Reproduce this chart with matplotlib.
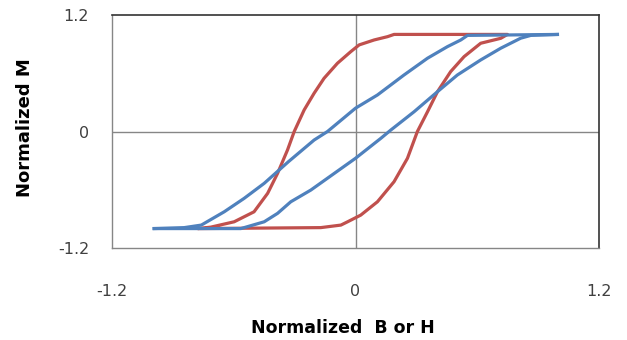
import matplotlib
matplotlib.use("Agg")
import matplotlib.pyplot as plt

# Red loop (narrow, square-ish): left (descending) branch, top, right (ascending) branch, bottom
red_x = [-0.778, -0.713, -0.598, -0.50, -0.433, -0.384, -0.335, -0.302, -0.253, -0.204, -0.155,
         -0.089, -0.023, 0.018, 0.092, 0.158, 0.19,
         0.749, 0.716, 0.617, 0.535, 0.469, 0.404, 0.355, 0.305, 0.256, 0.19, 0.108, 0.026, -0.039,
         -0.072, -0.171, -0.778]
red_m = [-1.0, -0.985, -0.93, -0.827, -0.637, -0.431, -0.19, 0.0, 0.222, 0.394, 0.548,
         0.703, 0.823, 0.892, 0.943, 0.977, 1.0,
         1.0, 0.96, 0.909, 0.771, 0.617, 0.41, 0.204, 0.0, -0.276, -0.517, -0.724, -0.861, -0.93,
         -0.964, -0.99, -1.0]

# Blue loop (slanted): ascending branch
blue_up_x = [-1.0, -0.565, -0.45, -0.384, -0.319, -0.22, 0.0, 0.125, 0.174, 0.289, 0.404,
             0.502, 0.617, 0.716, 0.814, 0.864, 1.003]
blue_up_m = [-1.0, -1.0, -0.93, -0.843, -0.724, -0.603, -0.276, -0.07, 0.015, 0.204, 0.41,
             0.582, 0.737, 0.858, 0.961, 0.99, 1.0]
# Blue loop: descending branch
blue_dn_x = [1.003, 0.552, 0.519, 0.453, 0.355, 0.239, 0.108, 0.0, -0.138, -0.204, -0.33,
             -0.45, -0.549, -0.647, -0.76, -0.844, -1.0]
blue_dn_m = [1.0, 0.99, 0.943, 0.874, 0.755, 0.582, 0.376, 0.24, 0.0, -0.088, -0.31,
             -0.534, -0.689, -0.827, -0.964, -0.99, -1.0]

ticks = [-1.2, 0, 1.2]
tick_labels = ["-1.2", "0", "1.2"]

fig = plt.figure(figsize=(6.27, 3.4), dpi=100)
ax = fig.add_axes([112/627, 1 - 248/340, 487/627, 233/340])

red = "#C0504D"
blue = "#4F81BD"
ax.plot(red_x, red_m, color=red, lw=2.3, solid_joinstyle="round", solid_capstyle="butt", zorder=3)
ax.plot(blue_up_x, blue_up_m, color=blue, lw=2.3, solid_joinstyle="round", solid_capstyle="butt", zorder=4)
ax.plot(blue_dn_x, blue_dn_m, color=blue, lw=2.3, solid_joinstyle="round", solid_capstyle="butt", zorder=4)

ax.axhline(0, color="#868686", lw=1.0, zorder=1)
ax.axvline(0, color="#868686", lw=1.0, zorder=1)

ax.set_xlim(-1.2, 1.2)
ax.set_ylim(-1.2, 1.2)
ax.set_xticks(ticks)
ax.set_xticklabels(tick_labels)
ax.set_yticks(ticks)
ax.set_yticklabels(tick_labels)
ax.tick_params(axis="both", length=0, labelsize=11.5, colors="#404040")
ax.tick_params(axis="x", pad=26)
ax.tick_params(axis="y", pad=16.5)

for side in ["left", "bottom"]:
    ax.spines[side].set_color("#868686")
    ax.spines[side].set_linewidth(1.0)
for side in ["top", "right"]:
    ax.spines[side].set_color("#333333")
    ax.spines[side].set_linewidth(1.2)

ax.set_xlabel("Normalized  B or H", fontsize=12.5, fontweight="bold", va="center", ha="center")
ax.xaxis.set_label_coords((343 - 112) / 487, (248 - 328) / 233)
ax.set_ylabel("Normalized M", fontsize=13, fontweight="bold", va="center", ha="center")
ax.yaxis.set_label_coords((25 - 112) / 487, (248 - 128) / 233)

fig.savefig("out.png", dpi=100)
